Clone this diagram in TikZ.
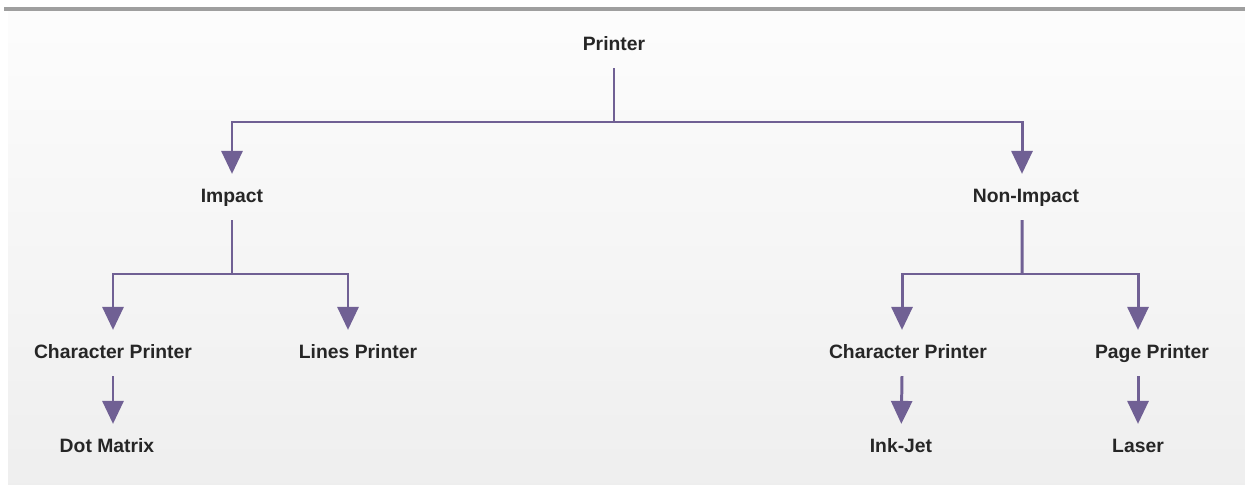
\documentclass[tikz,border=0pt]{standalone}
\usepackage{fontspec}
\setmainfont{Liberation Sans}
\usetikzlibrary{arrows.meta, positioning, calc}
\definecolor{lila}{RGB}{112,96,148}

\begin{document}
\begin{tikzpicture}[
            etiqueta/.style={font=\fontsize{11}{13}\selectfont\bfseries, text=black!85, text height=0.28cm, text depth=0.07cm, inner xsep=2pt, inner ysep=0.28cm},
            linea/.style={draw=lila, line width=1.7pt},
            flecha/.style={linea, -{Triangle[width=0.42cm, length=0.46cm]}}]

            \useasboundingbox (0,0) rectangle (24.9,-9.7);
            \shade[top color=gray!2, bottom color=gray!13] (0.16,-0.2) rectangle (24.9,-9.7);
            \draw[gray!75, line width=1.8pt] (0.08,-0.18) -- (24.9,-0.18);

            \node[etiqueta] (pr) at (12.28,-0.9) {Printer};
            \node[etiqueta] (imp) at (4.64,-3.94) {Impact};
            \node[etiqueta] (nimp) at (20.52,-3.94) {Non-Impact};
            \node[etiqueta] (cpa) at (2.26,-7.06) {Character Printer};
            \node[etiqueta] (lp) at (7.16,-7.06) {Lines Printer};
            \node[etiqueta] (cpb) at (18.16,-7.06) {Character Printer};
            \node[etiqueta] (pp) at (23.04,-7.06) {Page Printer};
            \node[etiqueta] (dm) at (2.14,-8.94) {Dot Matrix};
            \node[etiqueta] (ij) at (18.02,-8.94) {Ink-Jet};
            \node[etiqueta] (ls) at (22.76,-8.94) {Laser};

            \coordinate (b0) at (12.28,-2.44);
            \coordinate (b1) at (4.64,-5.48);
            \coordinate (b2) at (20.44,-5.48);

            \draw[linea] (pr) -- (b0);
            \draw[flecha] (b0) -| (imp);
            \draw[flecha] (b0) -| ([xshift=-0.08cm]nimp.north);

            \draw[linea] (imp) -- (b1);
            \draw[flecha] (b1) -| (cpa);
            \draw[flecha] (b1) -| ([xshift=-0.2cm]lp.north);

            \draw[linea] ([xshift=-0.08cm]nimp.south) -- (b2);
            \draw[flecha] (b2) -| ([xshift=-0.12cm]cpb.north);
            \draw[flecha] (b2) -| ([xshift=-0.28cm]pp.north);

            \draw[flecha] (cpa.south) -- (cpa.south |- dm.north);
            \draw[flecha] ([xshift=-0.12cm]cpb.south) -- (ij);
            \draw[flecha] (ls.north |- pp.south) -- (ls);
        \end{tikzpicture}
\end{document}
